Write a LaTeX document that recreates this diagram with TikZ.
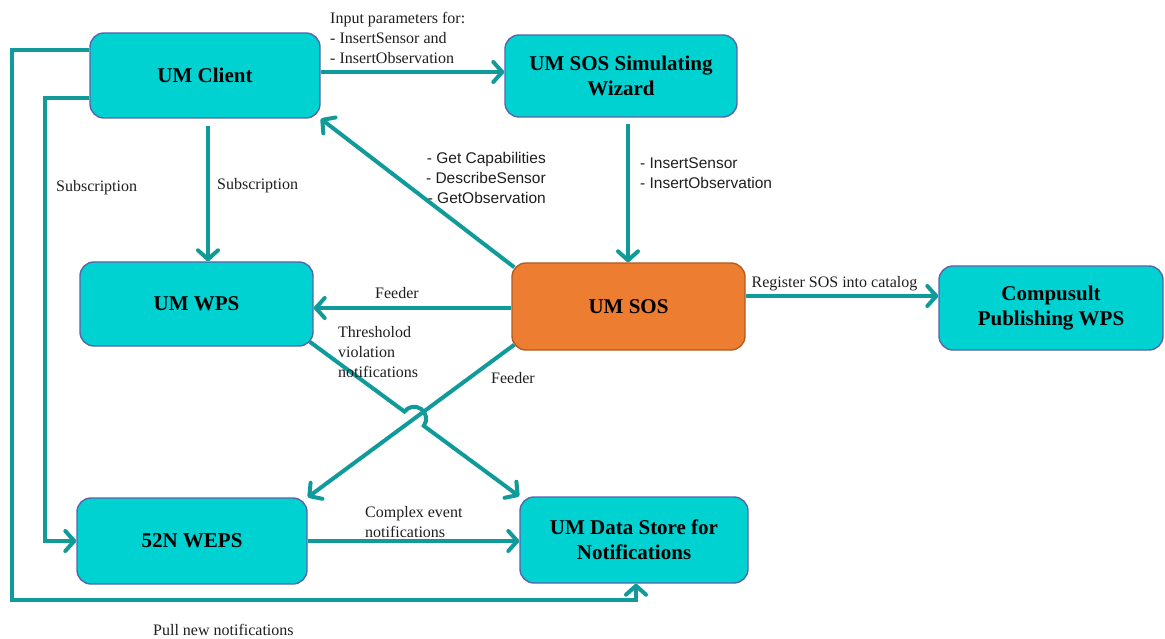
\documentclass[tikz,border=0pt]{standalone}
\usepackage{fontspec}
\setmainfont{Liberation Serif}
\newfontfamily\labelsans{Liberation Sans}
\usetikzlibrary{arrows.meta,calc,intersections}

\definecolor{boxcyan}{RGB}{0,210,210}
\definecolor{boxline}{RGB}{88,100,172}
\definecolor{sosfill}{RGB}{237,125,49}
\definecolor{sosline}{RGB}{176,92,36}
\definecolor{flow}{RGB}{16,154,154}
\definecolor{ink}{RGB}{30,30,30}

\tikzset{
  svc/.style={draw=boxline, line width=1.4pt, fill=boxcyan, rounded corners=14pt,
    align=center, font=\fontsize{21}{25}\selectfont\bfseries, text=black,
    inner sep=0pt},
  core/.style={svc, draw=sosline, fill=sosfill},
  flowline/.style={draw=flow, line width=4pt},
  flowarrow/.style={flowline, -{Straight Barb[length=9pt,width=20pt,line cap=round,line join=round]}},
  lbl/.style={font=\fontsize{16}{20}\selectfont, text=ink, inner sep=0pt, align=left},
  lblsans/.style={font=\labelsans\fontsize{15.5}{20}\selectfont, text=ink, inner sep=0pt},
}

\begin{document}
\begin{tikzpicture}[x=1pt,y=1pt]
  \useasboundingbox (0,0) rectangle (1165,-639);

  % service boxes
  \node[svc, minimum width=230, minimum height=85] (client) at (205,-75.5) {UM Client};
  \node[svc, minimum width=232, minimum height=82] (wizard) at (621,-76) {UM SOS Simulating\\Wizard};
  \node[svc, minimum width=233, minimum height=84] (wps) at (196.5,-304) {UM WPS};
  \node[core, minimum width=233, minimum height=87] (sos) at (628.5,-306.5) {UM SOS};
  \node[svc, minimum width=224, minimum height=84] (comp) at (1051,-308) {Compusult\\Publishing WPS};
  \node[svc, minimum width=230, minimum height=86] (weps) at (192,-541) {52N WEPS};
  \node[svc, minimum width=228, minimum height=86] (store) at (634,-540) {UM Data Store for\\Notifications};

  % client to wizard
  \coordinate (inA) at ($(client.east)+(0,3.5)$);
  \draw[flowarrow] (inA) -- (wizard.west |- inA);
  \node[lbl, anchor=west] (inlbl) at (330,-38) {Input parameters for:\\- InsertSensor and\\- InsertObservation};

  % subscriptions
  \coordinate (subA) at ($(client.south)+(3,-7)$);
  \draw[flowarrow] (subA) -- (subA |- wps.north);
  \node[lbl, anchor=west] (sublblA) at (217,-186) {Subscription};

  \coordinate (subB0) at ($(client.west)+(0,-22.5)$);
  \coordinate (subB) at ($(weps.west)+(-31,0)$);
  \draw[flowarrow] (subB0) -| (subB) -- (weps.west);
  \node[lbl, anchor=west] (sublblB) at (56,-188) {Subscription};

  % pulling notifications
  \coordinate (pull0) at ($(client.west)+(0,25.5)$);
  \coordinate (pullA) at (12,-600);
  \coordinate (pullB) at ($(store.south)+(2,0)$);
  \draw[flowarrow] (pull0) -| (pullA) -| (pullB);
  \node[lbl, anchor=west] (pulllbl) at (153,-630) {Pull new notifications};

  % SOS operations
  \coordinate (opA) at ($(sos.north west)+(3,-5)$);
  \draw[flowarrow] (opA) -- (client.south east);
  \node[lblsans, anchor=east, align=right] (oplbl) at (546,-178) {- Get Capabilities\\- DescribeSensor\\- GetObservation};

  \coordinate (insA) at ($(wizard.south)+(7,-6)$);
  \draw[flowarrow] (insA) -- (insA |- sos.north);
  \node[lblsans, anchor=west, align=left] (inslbl) at (640,-173) {- InsertSensor\\- InsertObservation};

  % feeders
  \coordinate (feedA) at ($(sos.west)+(0,-1.5)$);
  \draw[flowarrow] (feedA) -- (wps.east |- feedA);
  \node[lbl, anchor=center] (feedlblA) at (397,-293) {Feeder};

  \coordinate (feedB0) at ($(sos.south west)+(3,6)$);
  \draw[flowarrow, name path=feedB] (feedB0) -- (weps.north east);
  \node[lbl, anchor=center] (feedlblB) at (513,-378) {Feeder};

  % catalog registration
  \coordinate (regA) at ($(sos.east)+(0,10.5)$);
  \draw[flowarrow] (regA) -- (comp.west |- regA);
  \node[lbl, anchor=center] (reglbl) at (834.5,-284) {Register SOS into catalog};

  % threshold notifications, hopping over the feeder line
  \coordinate (thrA) at ($(wps.south east)+(-4,5)$);
  \path[name path=thresh] (thrA) -- (store.north west);
  \path[name intersections={of=feedB and thresh, by=cross}];
  \draw[flowarrow] let \p1 = ($(store.north west)-(thrA)$),
                       \n1 = {atan2(\y1,\x1)} in
    (thrA) -- ($(cross)!12pt!(thrA)$)
    arc[start angle=\n1+180, end angle=\n1, radius=12pt]
    -- (store.north west);
  \node[lbl, anchor=north west] (thrlbl) at (338,-326) {Thresholod\\violation\\notifications};

  % complex events
  \draw[flowarrow] (weps.east) -- (store.west |- weps.east);
  \node[lbl, anchor=west] (cplbl) at (365,-522) {Complex event\\notifications};
\end{tikzpicture}
\end{document}
